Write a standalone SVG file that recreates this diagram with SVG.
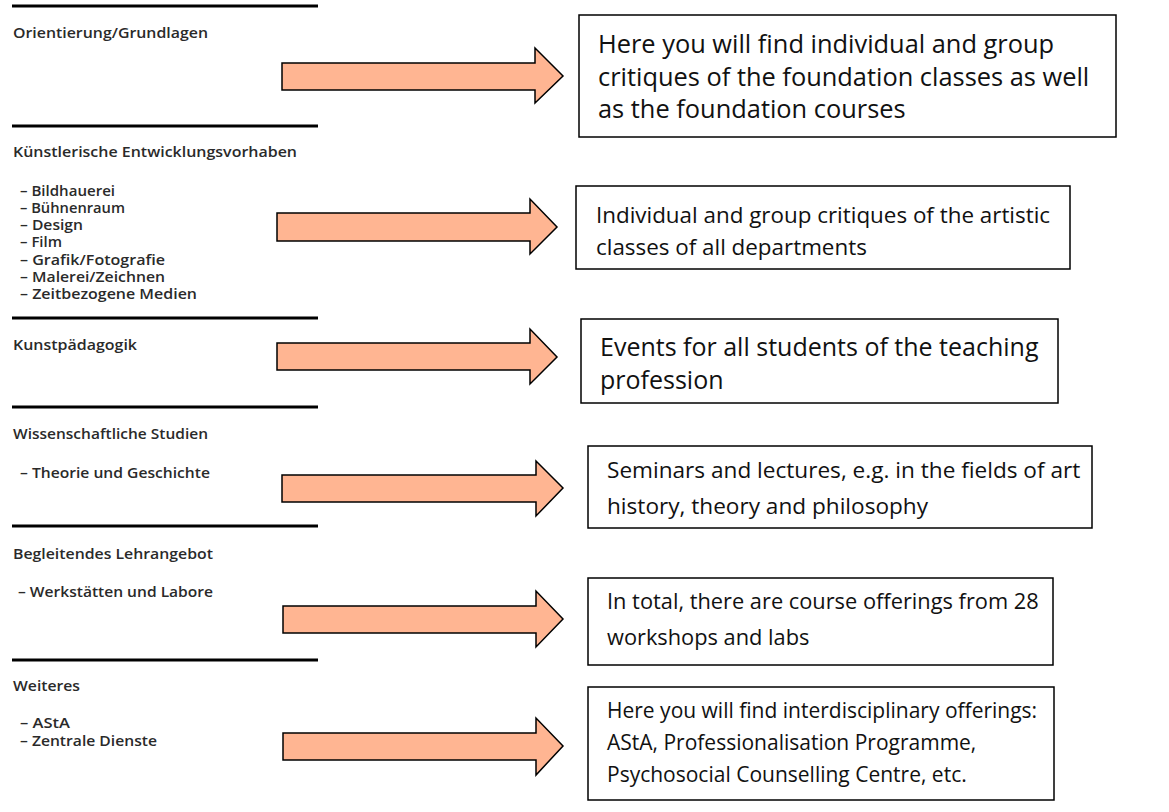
<svg xmlns="http://www.w3.org/2000/svg" width="1169" height="812" viewBox="0 0 1169 812">
<style>
.rule{stroke:#000;stroke-width:3.2;fill:none}
.lbl{font-family:"Open Sans","Liberation Sans",sans-serif;font-size:13.5px;font-weight:600;fill:#2a2a2a}
.box{fill:#fff;stroke:#000;stroke-width:1.5}
.bt{font-family:"Open Sans","Liberation Sans",sans-serif;fill:#111}
.f1{font-size:25.4px}
.f3{font-size:25px}
.f2{font-size:22.4px}
.f4{font-size:22.6px}
.f5{font-size:21.8px}
.f6{font-size:21px}
.arr{fill:#FFB592;stroke:#000;stroke-width:1.5;stroke-linejoin:miter}
</style>
<rect width="1169" height="812" fill="#fff"/>
<g id="rules">
<line class="rule" x1="12" y1="6" x2="318" y2="6"/>
<line class="rule" x1="12" y1="126" x2="318" y2="126"/>
<line class="rule" x1="12" y1="318" x2="318" y2="318"/>
<line class="rule" x1="12" y1="407" x2="318" y2="407"/>
<line class="rule" x1="12" y1="526" x2="318" y2="526"/>
<line class="rule" x1="12" y1="660" x2="318" y2="660"/>
</g>
<g id="sec-orientierung">
<text class="lbl" x="13" y="38" textLength="195" lengthAdjust="spacingAndGlyphs">Orientierung/Grundlagen</text>
</g>
<g id="sec-kuenstlerisch">
<text class="lbl" x="13" y="157" textLength="284" lengthAdjust="spacingAndGlyphs">Künstlerische Entwicklungsvorhaben</text>
<text class="lbl" x="20" y="196" textLength="95" lengthAdjust="spacingAndGlyphs">– Bildhauerei</text>
<text class="lbl" x="20" y="213" textLength="105" lengthAdjust="spacingAndGlyphs">– Bühnenraum</text>
<text class="lbl" x="20" y="230" textLength="63" lengthAdjust="spacingAndGlyphs">– Design</text>
<text class="lbl" x="20" y="247" textLength="42" lengthAdjust="spacingAndGlyphs">– Film</text>
<text class="lbl" x="20" y="265" textLength="145" lengthAdjust="spacingAndGlyphs">– Grafik/Fotografie</text>
<text class="lbl" x="20" y="282" textLength="145" lengthAdjust="spacingAndGlyphs">– Malerei/Zeichnen</text>
<text class="lbl" x="20" y="299" textLength="177" lengthAdjust="spacingAndGlyphs">– Zeitbezogene Medien</text>
</g>
<g id="sec-kunstpaedagogik">
<text class="lbl" x="13" y="350" textLength="124" lengthAdjust="spacingAndGlyphs">Kunstpädagogik</text>
</g>
<g id="sec-wissenschaft">
<text class="lbl" x="13" y="439" textLength="195" lengthAdjust="spacingAndGlyphs">Wissenschaftliche Studien</text>
<text class="lbl" x="20" y="478" textLength="190" lengthAdjust="spacingAndGlyphs">– Theorie und Geschichte</text>
</g>
<g id="sec-begleitend">
<text class="lbl" x="13" y="559" textLength="200" lengthAdjust="spacingAndGlyphs">Begleitendes Lehrangebot</text>
<text class="lbl" x="18" y="597" textLength="195" lengthAdjust="spacingAndGlyphs">– Werkstätten und Labore</text>
</g>
<g id="sec-weiteres">
<text class="lbl" x="13" y="691" textLength="67" lengthAdjust="spacingAndGlyphs">Weiteres</text>
<text class="lbl" x="20" y="728" textLength="50" lengthAdjust="spacingAndGlyphs">– AStA</text>
<text class="lbl" x="20" y="746" textLength="137" lengthAdjust="spacingAndGlyphs">– Zentrale Dienste</text>
</g>
<g id="connectors">
<polygon class="arr" points="282,63 535,63 535,48 563,76 535,103 535,90 282,90"/>
<polygon class="arr" points="277,213 530,213 530,199 557,227 530,254 530,241 277,241"/>
<polygon class="arr" points="277,343 530,343 530,329 557,357 530,384 530,370 277,370"/>
<polygon class="arr" points="282,475 536,475 536,461 563,488 536,516 536,502 282,502"/>
<polygon class="arr" points="283,606 536,606 536,591 563,619 536,647 536,633 283,633"/>
<polygon class="arr" points="283,733 536,733 536,718 563,746 536,775 536,760 283,760"/>
</g>
<g id="box-1">
<rect class="box" x="579" y="15" width="537" height="122"/>
<text class="bt f1" x="598" y="53">Here you will find individual and group</text>
<text class="bt f1" x="598" y="86">critiques of the foundation classes as well</text>
<text class="bt f1" x="598" y="118">as the foundation courses</text>
</g>
<g id="box-2">
<rect class="box" x="576" y="186" width="494" height="83"/>
<text class="bt f2" x="596" y="223">Individual and group critiques of the artistic</text>
<text class="bt f2" x="596" y="255">classes of all departments</text>
</g>
<g id="box-3">
<rect class="box" x="581" y="319" width="477" height="84"/>
<text class="bt f3" x="600" y="356">Events for all students of the teaching</text>
<text class="bt f3" x="600" y="389">profession</text>
</g>
<g id="box-4">
<rect class="box" x="588" y="446" width="504" height="82"/>
<text class="bt f4" x="607" y="478">Seminars and lectures, e.g. in the fields of art</text>
<text class="bt f4" x="607" y="514">history, theory and philosophy</text>
</g>
<g id="box-5">
<rect class="box" x="588" y="578" width="465" height="87"/>
<text class="bt f5" x="607" y="609">In total, there are course offerings from 28</text>
<text class="bt f5" x="607" y="645">workshops and labs</text>
</g>
<g id="box-6">
<rect class="box" x="588" y="687" width="466" height="113"/>
<text class="bt f6" x="607" y="718">Here you will find interdisciplinary offerings:</text>
<text class="bt f6" x="607" y="750">AStA, Professionalisation Programme,</text>
<text class="bt f6" x="607" y="782">Psychosocial Counselling Centre, etc.</text>
</g>
</svg>
